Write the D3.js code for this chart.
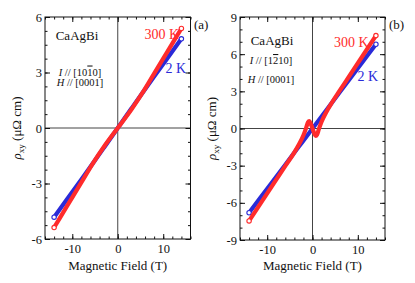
<!DOCTYPE html>
<html><head><meta charset="utf-8">
<script src="https://cdn.jsdelivr.net/npm/d3@7/dist/d3.min.js"></script>
<style>body{margin:0;background:#fff}svg{display:block}</style>
</head><body><svg id="c" width="415" height="283"></svg>
<script>
// ---- data ----
const fieldA = [-14,-11,-8,-5.5,-3,0,3,5.5,8,11,14];
const blueA  = [-4.82,-3.8,-2.78,-1.92,-1.05,0,1.05,1.92,2.78,3.8,4.82];
const redA   = [-5.38,-4.16,-2.94,-1.92,-1.0,0,1.0,1.92,2.94,4.16,5.38];
const fieldB_blue = [-14,-10,-6,-3,0,3,6,10,14];
const blueB  = [-6.8,-4.86,-2.92,-1.46,0,1.46,2.92,4.86,6.8];
const fieldB_red = [-14,-12,-10,-8,-6,-4.2,-3,-2,-1.4,-1,-0.7,-0.4,0,0.4,0.7,1,1.4,2,3,4.2,6,8,10,12,14];
const redB   = [-7.46,-6.35,-5.24,-4.13,-3.02,-2.04,-1.3,-0.55,0.05,0.5,0.6,0.4,0,-0.4,-0.6,-0.5,-0.05,0.55,1.3,2.04,3.05,4.16,5.27,6.38,7.5];
const xTicks = [-10,0,10];
const yTicksA = [-6,-3,0,3,6];
const yTicksB = [-9,-6,-3,0,3,6,9];
const seriesLabels = ["300 K","2 K"];
const panelLabels = ["(a)","(b)"];

const FONT = "'Liberation Serif', 'Times New Roman', Times, 'DejaVu Serif', serif";
const RED = "#ff2b2b", BLUE = "#2a2ad8";
const svg = d3.select("#c");

function txt(sel){ return sel.attr("font-family",FONT).style("font-family",FONT).attr("fill","#111"); }

function panel(o){
  const g = svg.append("g").attr("font-family",FONT);
  const x = d3.scaleLinear().domain([-16,16]).range([o.l,o.r]);
  const y = d3.scaleLinear().domain(o.yd).range([o.b,o.t]);
  g.append("line").attr("x1",x(0)).attr("x2",x(0)).attr("y1",o.t).attr("y2",o.b).attr("stroke","#444").attr("stroke-width",1);
  g.append("line").attr("x1",o.l).attr("x2",o.r).attr("y1",y(0)).attr("y2",y(0)).attr("stroke","#444").attr("stroke-width",1);
  const fmt = d=>String(d);
  const minorX = d3.range(-16,17,2);
  const minorY = d3.range(o.yd[0],o.yd[1]+0.001,o.ym);
  function ax(gen,tr){ const a=g.append("g").attr("transform",tr).call(gen); a.attr("font-family",FONT); a.select(".domain").remove(); a.selectAll("line").attr("stroke","#111"); txt(a.selectAll("text")).style("font-size","12.5px"); return a;}
  ax(d3.axisBottom(x).tickValues(xTicks).tickFormat(fmt).tickSize(-5).tickPadding(5).tickSizeOuter(0),`translate(0,${o.b})`);
  ax(d3.axisBottom(x).tickValues(minorX).tickFormat("").tickSize(-2.5).tickSizeOuter(0),`translate(0,${o.b})`);
  ax(d3.axisTop(x).tickValues(xTicks).tickFormat("").tickSize(-5).tickSizeOuter(0),`translate(0,${o.t})`);
  ax(d3.axisTop(x).tickValues(minorX).tickFormat("").tickSize(-2.5).tickSizeOuter(0),`translate(0,${o.t})`);
  ax(d3.axisLeft(y).tickValues(o.yt).tickFormat(fmt).tickSize(-5).tickPadding(3).tickSizeOuter(0),`translate(${o.l},0)`);
  ax(d3.axisLeft(y).tickValues(minorY).tickFormat("").tickSize(-2.5).tickSizeOuter(0),`translate(${o.l},0)`);
  ax(d3.axisRight(y).tickValues(o.yt).tickFormat("").tickSize(-5).tickSizeOuter(0),`translate(${o.r},0)`);
  ax(d3.axisRight(y).tickValues(minorY).tickFormat("").tickSize(-2.5).tickSizeOuter(0),`translate(${o.r},0)`);
  g.append("rect").attr("x",o.l).attr("y",o.t).attr("width",o.r-o.l).attr("height",o.b-o.t).attr("fill","none").attr("stroke","#111").attr("stroke-width",1);

  const line = d3.line().x(d=>x(d[0])).y(d=>y(d[1])).curve(d3.curveMonotoneX);
  [[o.bx,o.by,BLUE],[o.rx,o.ry,RED]].forEach(([xs,ys,c])=>{
    const pts = xs.map((v,i)=>[v,ys[i]]);
    g.append("path").datum(pts).attr("d",line).attr("fill","none").attr("stroke",c).attr("stroke-width",4.2).attr("stroke-linecap","round");
    [pts[0],pts[pts.length-1]].forEach(p=>{
      g.append("circle").attr("cx",x(p[0])).attr("cy",y(p[1])).attr("r",2.2).attr("fill","#fff").attr("stroke",c).attr("stroke-width",1.1);
    });
  });
  txt(g.append("text")).attr("x",o.titleX).attr("y",o.titleY).attr("text-anchor","middle").style("font-size","13px").text("CaAgBi");
  const t1 = txt(g.append("text")).attr("x",o.iX).attr("y",o.iY).attr("text-anchor","middle").style("font-size","10.5px");
  t1.append("tspan").style("font-style","italic").text("I");
  t1.append("tspan").text(" // [");
  o.iDir.forEach(([ch,bar])=>{ const s=t1.append("tspan").text(ch); if(bar) s.style("text-decoration","overline"); });
  t1.append("tspan").text("]");
  const t2 = txt(g.append("text")).attr("x",o.iX).attr("y",o.hY).attr("text-anchor","middle").style("font-size","10.5px");
  t2.append("tspan").style("font-style","italic").text("H");
  t2.append("tspan").text(" // [0001]");
  txt(g.append("text")).attr("x",o.rlX).attr("y",o.rlY).attr("text-anchor","end").style("font-size","14px").attr("fill",RED).text(seriesLabels[0]);
  txt(g.append("text")).attr("x",o.blX).attr("y",o.blY).attr("text-anchor","end").style("font-size","14px").attr("fill",BLUE).text(seriesLabels[1]);
  txt(g.append("text")).attr("x",o.plX).attr("y",29).style("font-size","13px").text(o.pl);
  txt(g.append("text")).attr("x",(o.l+o.r)/2).attr("y",270).attr("text-anchor","middle").style("font-size","13px").text("Magnetic Field (T)");
  const yl = txt(g.append("text")).attr("transform",`translate(${o.ylX},${(o.t+o.b)/2}) rotate(-90)`).attr("text-anchor","middle").style("font-size","13px");
  yl.append("tspan").style("font-style","italic").text("ρ");
  yl.append("tspan").attr("dy",3).style("font-size","9px").text("xy");
  yl.append("tspan").attr("dy",-3).text(" (μΩ cm)");
}

panel({l:45,r:190.5,t:17,b:239,yd:[-6,6],yt:yTicksA,ym:0.75,
  bx:fieldA,by:blueA,rx:fieldA,ry:redA,
  titleX:77,titleY:39.5,iX:80,iY:75.5,hY:85.5,iDir:[["1",0],["0",0],["1",1],["0",0]],
  rlX:179,rlY:38.5,blX:186,blY:72.5,plX:194,pl:panelLabels[0],ylX:21});
panel({l:240,r:385,t:17,b:240,yd:[-9,9],yt:yTicksB,ym:1,
  bx:fieldB_blue,by:blueB,rx:fieldB_red,ry:redB,
  titleX:272,titleY:44.5,iX:271,iY:64,hY:83,iDir:[["1",0],["2",1],["1",0],["0",0]],
  rlX:368.5,rlY:47,blX:378,blY:81,plX:389,pl:panelLabels[1],ylX:216});
</script></body></html>
